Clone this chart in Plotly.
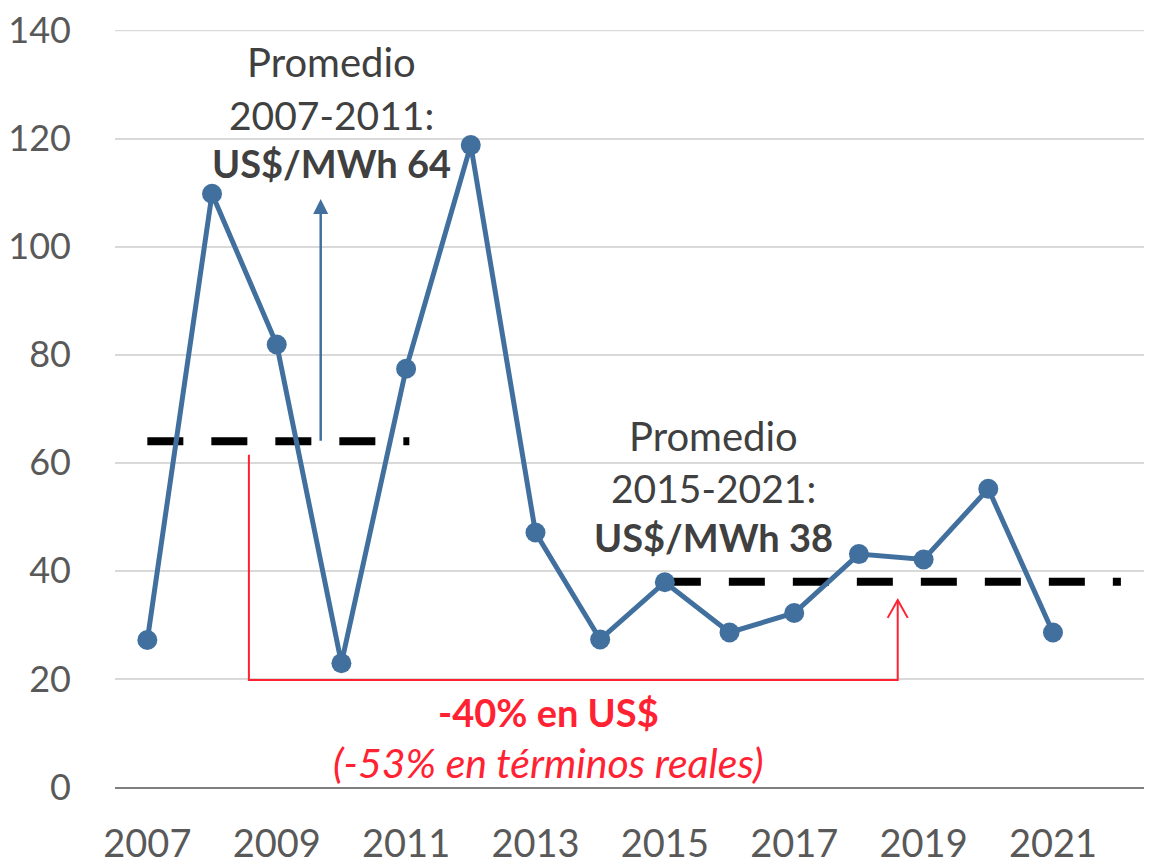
import plotly.graph_objects as go

years = list(range(2007, 2022))
prices = [27.2, 109.8, 81.9, 22.9, 77.4, 118.8, 47.1, 27.3, 37.9, 28.6, 32.2, 43.1, 42.1, 55.2, 28.6]

avg1_years = [2007, 2011.05]
avg1_value = 64
avg2_years = [2015, 2022.05]
avg2_value = 38

x_ticks = [2007, 2009, 2011, 2013, 2015, 2017, 2019, 2021]
y_ticks = [0, 20, 40, 60, 80, 100, 120, 140]

BLUE = "#41709F"
RED = "#FF2233"
DARK = "#404040"
TICK = "#595959"
GRID = "#D9D9D9"
FONT = "Lato"

fig = go.Figure()

fig.add_trace(go.Scatter(
    x=avg1_years, y=[avg1_value] * 2, mode="lines",
    line=dict(color="black", width=8, dash="36px,28px"), hoverinfo="skip"))
fig.add_trace(go.Scatter(
    x=avg2_years, y=[avg2_value] * 2, mode="lines",
    line=dict(color="black", width=8, dash="36px,28px"), hoverinfo="skip"))

fig.add_trace(go.Scatter(
    x=years, y=prices, mode="lines+markers",
    line=dict(color=BLUE, width=5),
    marker=dict(color=BLUE, size=20)))

# top gridline (plotly clips gridlines at the range end)
fig.add_shape(type="line", xref="paper", yref="y", x0=0, x1=1, y0=y_ticks[-1], y1=y_ticks[-1],
              line=dict(color=GRID, width=1.5), layer="below")

# red bracket
bx0, bx1 = 2008.57, 2018.6
fig.add_shape(type="path",
              path=f"M {bx0},61.5 L {bx0},19.8 L {bx1},19.8 L {bx1},34.6",
              line=dict(color=RED, width=2))
fig.add_shape(type="path",
              path=f"M {bx1-0.155},31.3 L {bx1},34.6 L {bx1+0.155},31.3",
              line=dict(color=RED, width=2))

# blue arrow
fig.add_annotation(x=2009.68, y=108.8, ax=2009.68, ay=63.8, xref="x", yref="y",
                   axref="x", ayref="y", showarrow=True, arrowhead=2, arrowsize=1.2,
                   arrowwidth=2.5, arrowcolor=BLUE, text="")

def label(x, y, text, color=DARK, bold=False, italic=False, size=36):
    t = text
    if bold:
        t = f"<b>{t}</b>"
    if italic:
        t = f"<i>{t}</i>"
    fig.add_annotation(x=x, y=y, xref="x", yref="y", text=t, showarrow=False,
                       font=dict(family=FONT, size=size, color=color),
                       xanchor="center", yanchor="middle")

label(2009.84, 134.1, "Promedio", size=40)
label(2009.84, 124.3, "2007-2011:", size=39)
label(2009.84, 115.4, "US$/MWh 64", bold=True, size=38)

label(2015.75, 64.9, "Promedio", size=40)
label(2015.75, 55.3, "2015-2021:", size=39)
label(2015.75, 46.2, "US$/MWh 38", bold=True, size=38)

label(2013.2, 13.9, "-40% en US$", color=RED, bold=True, size=38)
label(2013.2, 4.6, "(-53% en términos reales)", color=RED, italic=True, size=41)

# the page body has an 8px margin, so the figure is 8px smaller than the window
fig.update_layout(
    width=1144, height=849,
    margin=dict(l=107, r=2, t=22, b=70),
    paper_bgcolor="white", plot_bgcolor="white",
    showlegend=False,
    font=dict(family=FONT, size=36, color=TICK),
    xaxis=dict(range=[2006.5, 2022.5], tickvals=x_ticks,
               ticktext=[str(v) for v in x_ticks],
               showgrid=False, zeroline=False, showline=True,
               linecolor="#7F7F7F", linewidth=1.5, ticks="",
               ticklabelstandoff=23, automargin=False, ticklabeloverflow="allow",
               tickfont=dict(family=FONT, size=38, color=TICK)),
    yaxis=dict(range=[0, 140.1], tickvals=y_ticks, showgrid=True,
               gridcolor=GRID, gridwidth=1.5, zeroline=False,
               showline=False, ticks="", ticklabelstandoff=43, automargin=False,
               ticklabeloverflow="allow",
               tickfont=dict(family=FONT, size=36, color=TICK)),
)

fig.write_html("out.html")
